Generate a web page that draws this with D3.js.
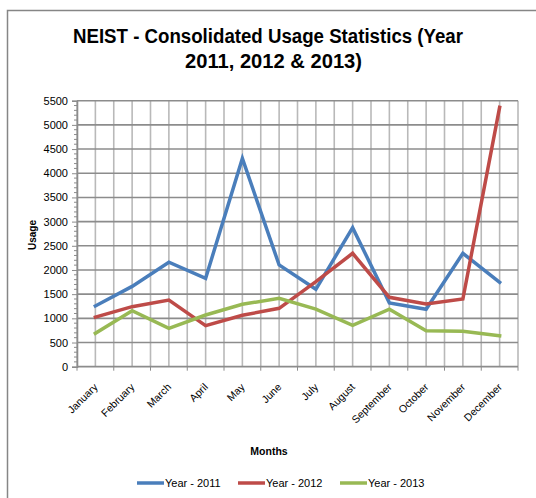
<!DOCTYPE html>
<html><head><meta charset="utf-8">
<script src="https://cdn.jsdelivr.net/npm/d3@7"></script>
<style>body{margin:0;background:#fff;} svg{display:block;}</style>
</head><body>
<svg id="c" width="536" height="498"></svg>
<script>
const months = ["January","February","March","April","May","June","July","August","September","October","November","December"];
const year2011 = [1255, 1660, 2160, 1828, 4305, 2103, 1600, 2875, 1320, 1187, 2345, 1745];
const year2012 = [1025, 1241, 1379, 848, 1063, 1207, 1758, 2345, 1435, 1296, 1400, 5364];
const year2013 = [690, 1158, 794, 1069, 1290, 1414, 1190, 856, 1190, 745, 735, 640];
const seriesNames = ["Year - 2011", "Year - 2012", "Year - 2013"];
const colors = ["#4a7ebb", "#be4b48", "#98b954"];
const yTicks = [0,500,1000,1500,2000,2500,3000,3500,4000,4500,5000,5500];

const svg = d3.select("#c");
const m = {l:77, r:518, t:100.7, b:366.7};
svg.append("rect").attr("x",7.5).attr("y",10.5).attr("width",540).attr("height",500)
  .attr("fill","#fff").attr("stroke","#868686").attr("stroke-width",1.5);

const titleFont = "'Liberation Sans',Arial,sans-serif";
svg.append("text").attr("x",268).attr("y",43).attr("text-anchor","middle")
  .attr("font-family",titleFont).attr("font-weight","bold").attr("font-size",20)
  .attr("textLength",390).attr("lengthAdjust","spacingAndGlyphs")
  .text("NEIST - Consolidated Usage Statistics (Year");
svg.append("text").attr("x",273.5).attr("y",68).attr("text-anchor","middle")
  .attr("font-family",titleFont).attr("font-weight","bold").attr("font-size",20)
  .attr("textLength",177).attr("lengthAdjust","spacingAndGlyphs")
  .text("2011, 2012 & 2013)");

const x = d3.scaleBand().domain(months).range([m.l, m.r]);
const y = d3.scaleLinear().domain([0,5500]).range([m.b, m.t]);

// vertical gridlines at category boundaries and centres
const g = svg.append("g");
const vlines = [];
months.forEach(mo => { vlines.push(x(mo)); vlines.push(x(mo)+x.bandwidth()/2); });
vlines.push(m.r);
g.selectAll(".v").data(vlines).join("line")
  .attr("x1",d=>d).attr("x2",d=>d).attr("y1",m.t).attr("y2",m.b)
  .attr("stroke","#b9b9b9").attr("stroke-width",1.6);
g.selectAll(".h").data(yTicks.slice(1)).join("line")
  .attr("x1",m.l).attr("x2",m.r).attr("y1",d=>y(d)).attr("y2",d=>y(d))
  .attr("stroke","#8c8c8c").attr("stroke-width",1.6);

// y axis
const yAxis = d3.axisLeft(y).tickValues(yTicks).tickSize(5).tickPadding(4).tickFormat(d3.format("d"));
const ya = svg.append("g").attr("transform",`translate(${m.l},0)`).call(yAxis);
ya.select(".domain").attr("stroke","#8c8c8c").attr("stroke-width",1.6);
ya.selectAll(".tick line").attr("stroke","#8c8c8c");
ya.selectAll("text").attr("font-family","'Liberation Sans',Arial,sans-serif").attr("font-size",11).attr("fill","#000");
const minor = d3.range(0,5501,100).filter(v=>v%500!==0);
svg.append("g").selectAll("line").data(minor).join("line")
  .attr("x1",m.l-3).attr("x2",m.l).attr("y1",d=>y(d)).attr("y2",d=>y(d))
  .attr("stroke","#8c8c8c").attr("stroke-width",1);

// x axis
svg.append("line").attr("x1",m.l).attr("x2",m.r).attr("y1",m.b).attr("y2",m.b)
  .attr("stroke","#8c8c8c").attr("stroke-width",1.8);
svg.append("g").selectAll("line").data(months.map(mo=>x(mo)).concat([m.r])).join("line")
  .attr("x1",d=>d).attr("x2",d=>d).attr("y1",m.b).attr("y2",m.b+4)
  .attr("stroke","#8c8c8c");
svg.append("g").selectAll("text").data(months).join("text")
  .attr("transform",d=>`translate(${x(d)+x.bandwidth()/2+3},${m.b+21}) rotate(-45)`)
  .attr("text-anchor","end")
  .attr("font-family","'Liberation Sans',Arial,sans-serif").attr("font-size",10.5)
  .text(d=>d);

// axis titles
svg.append("text").attr("x",269).attr("y",455).attr("text-anchor","middle")
  .attr("font-family","'Liberation Sans',Arial,sans-serif").attr("font-weight","bold").attr("font-size",10.5)
  .text("Months");
svg.append("text").attr("transform","translate(36,235) rotate(-90)").attr("text-anchor","middle")
  .attr("font-family","'Liberation Sans',Arial,sans-serif").attr("font-weight","bold").attr("font-size",10)
  .attr("textLength",30).attr("lengthAdjust","spacingAndGlyphs")
  .text("Usage");

// lines
const data = [year2011, year2012, year2013];
const line = d3.line().x((d,i)=>x(months[i])+x.bandwidth()/2).y(d=>y(d));
svg.append("g").selectAll("path").data(data).join("path")
  .attr("d",line).attr("fill","none")
  .attr("stroke",(d,i)=>colors[i]).attr("stroke-width",3.5)
  .attr("stroke-linejoin","miter").attr("stroke-linecap","square");

// legend
const legX = [137, 238, 340];
const lg = svg.append("g").selectAll("g").data(seriesNames).join("g")
  .attr("transform",(d,i)=>`translate(${legX[i]},483)`);
lg.append("line").attr("x1",0).attr("x2",27).attr("y1",0).attr("y2",0)
  .attr("stroke",(d,i)=>colors[i]).attr("stroke-width",3.5);
lg.append("text").attr("x",28).attr("y",4)
  .attr("font-family","'Liberation Sans',Arial,sans-serif").attr("font-size",11)
  .text(d=>d);
</script>
</body></html>
